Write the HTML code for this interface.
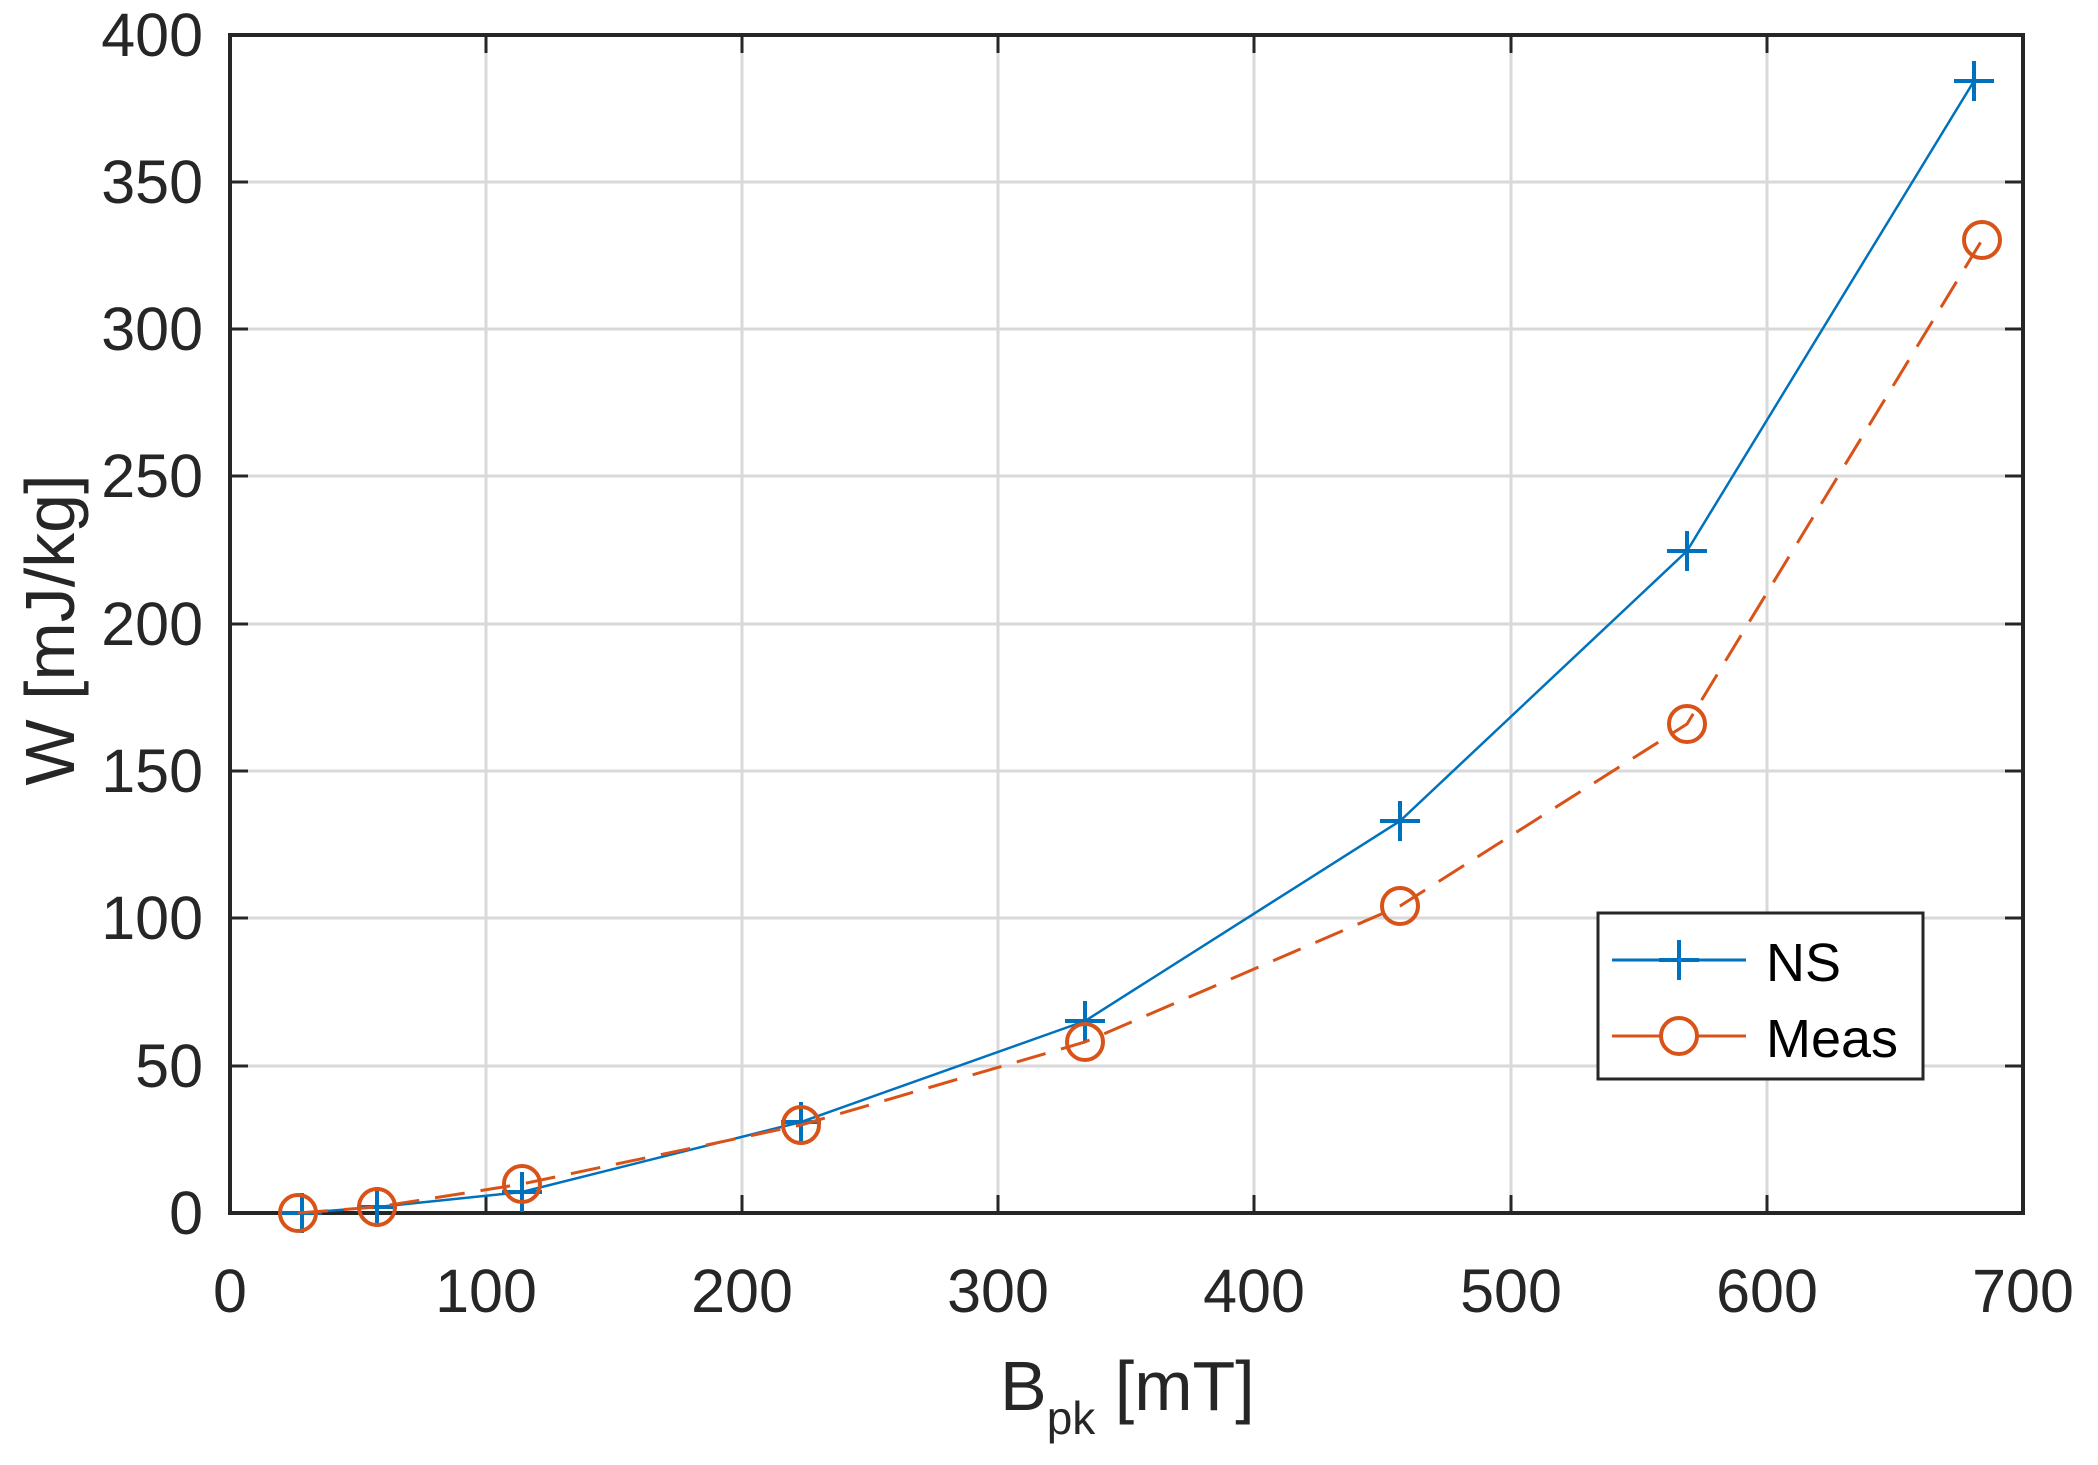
<!DOCTYPE html>
<html><head><style>body{margin:0;background:#fff}svg{display:block}</style></head><body>
<svg width="2098" height="1465" viewBox="0 0 2098 1465" xmlns="http://www.w3.org/2000/svg" font-family="Liberation Sans, sans-serif">
<rect width="2098" height="1465" fill="#fff"/>
<g stroke="#d9d9d9" stroke-width="3">
<line x1="486" y1="35" x2="486" y2="1213"/><line x1="742" y1="35" x2="742" y2="1213"/><line x1="998" y1="35" x2="998" y2="1213"/><line x1="1254" y1="35" x2="1254" y2="1213"/><line x1="1511" y1="35" x2="1511" y2="1213"/><line x1="1767" y1="35" x2="1767" y2="1213"/>
<line x1="230" y1="1066" x2="2023" y2="1066"/><line x1="230" y1="918" x2="2023" y2="918"/><line x1="230" y1="771" x2="2023" y2="771"/><line x1="230" y1="624" x2="2023" y2="624"/><line x1="230" y1="476" x2="2023" y2="476"/><line x1="230" y1="329" x2="2023" y2="329"/><line x1="230" y1="182" x2="2023" y2="182"/>
</g>
<g stroke="#262626" stroke-width="3">
<path d="M486 1213v-18M742 1213v-18M998 1213v-18M1254 1213v-18M1511 1213v-18M1767 1213v-18M486 35v18M742 35v18M998 35v18M1254 35v18M1511 35v18M1767 35v18"/>
<path d="M230 1066h18M230 918h18M230 771h18M230 624h18M230 476h18M230 329h18M230 182h18M2023 1066h-18M2023 918h-18M2023 771h-18M2023 624h-18M2023 476h-18M2023 329h-18M2023 182h-18"/>
</g>
<rect x="230" y="35" width="1793" height="1178" fill="none" stroke="#262626" stroke-width="4"/>
<polyline fill="none" stroke="#0072bd" stroke-width="2.5" points="302,1213 377,1207 522,1192 801,1122 1085,1021 1400,821 1687,551 1974,81"/>
<g stroke="#0072bd" stroke-width="4">
<path d="M282 1213h40M302 1193v40M357 1207h40M377 1187v40M502 1192h40M522 1172v40M781 1122h40M801 1102v40M1065 1021h40M1085 1001v40M1380 821h40M1400 801v40M1667 551h40M1687 531v40M1954 81h40M1974 61v40"/>
</g>
<polyline fill="none" stroke="#d95319" stroke-width="3" stroke-dasharray="30,16" points="298,1213 377,1207 522,1184 801,1125 1085,1042 1400,906 1687,724 1982,240"/>
<g fill="none" stroke="#d95319" stroke-width="4">
<circle cx="298" cy="1213" r="18"/><circle cx="377" cy="1207" r="18"/><circle cx="522" cy="1184" r="18"/><circle cx="801" cy="1125" r="18"/><circle cx="1085" cy="1042" r="18"/><circle cx="1400" cy="906" r="18"/><circle cx="1687" cy="724" r="18"/><circle cx="1982" cy="240" r="18"/>
</g>
<g font-size="61" fill="#262626" text-anchor="end">
<text x="203" y="1234">0</text><text x="203" y="1087">50</text><text x="203" y="939">100</text><text x="203" y="792">150</text><text x="203" y="645">200</text><text x="203" y="497">250</text><text x="203" y="350">300</text><text x="203" y="203">350</text><text x="203" y="56">400</text>
</g>
<g font-size="61" fill="#262626" text-anchor="middle">
<text x="230" y="1312">0</text><text x="486" y="1312">100</text><text x="742" y="1312">200</text><text x="998" y="1312">300</text><text x="1254" y="1312">400</text><text x="1511" y="1312">500</text><text x="1767" y="1312">600</text><text x="2023" y="1312">700</text>
</g>
<text x="1000" y="1410" font-size="70" fill="#262626">B<tspan font-size="46" dy="24">pk</tspan><tspan dy="-24"> [mT]</tspan></text>
<text transform="translate(74,630) rotate(-90)" font-size="70" fill="#262626" text-anchor="middle">W [mJ/kg]</text>
<rect x="1598" y="913" width="325" height="166" fill="#fff" stroke="#262626" stroke-width="3"/>
<line x1="1612" y1="960" x2="1746" y2="960" stroke="#0072bd" stroke-width="3"/>
<path d="M1659 960h40M1679 940v40" stroke="#0072bd" stroke-width="4"/>
<line x1="1612" y1="1036" x2="1746" y2="1036" stroke="#d95319" stroke-width="3"/>
<circle cx="1679" cy="1036" r="18" fill="#fff" stroke="#d95319" stroke-width="4"/>
<text x="1766" y="981" font-size="54" fill="#000">NS</text>
<text x="1766" y="1057" font-size="54" fill="#000">Meas</text>
</svg>
</body></html>
